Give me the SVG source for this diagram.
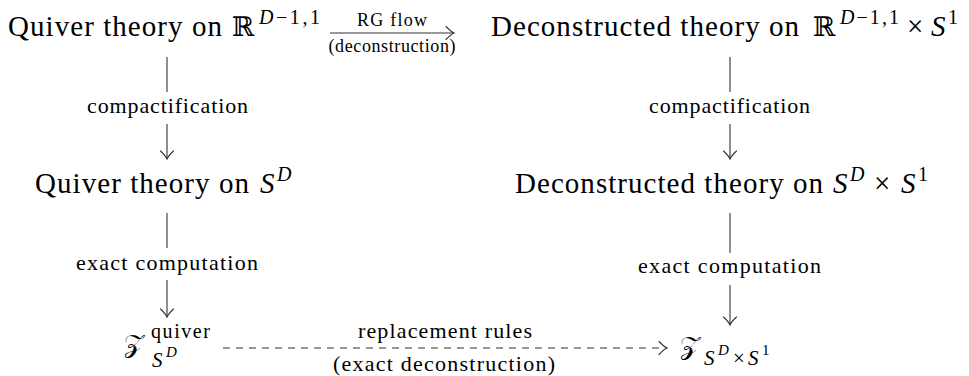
<svg xmlns="http://www.w3.org/2000/svg" width="969" height="376" viewBox="0 0 969 376">
<style>
text { font-family: "Liberation Serif", "Times New Roman", serif; fill: #000; }
.m { font-size: 29px; }
.sup { font-size: 20px; }
.sub { font-size: 21px; }
.ss { font-size: 15px; }
.lbl { font-size: 22px; text-anchor: middle; }
.slbl { font-size: 18px; text-anchor: middle; }
.it { font-style: italic; }
.bb { font-family: "DejaVu Serif", "DejaVu Sans", serif; font-size: 27px; }
.cal { font-family: "DejaVu Serif", "DejaVu Sans", serif; font-size: 26px; }
.edge { stroke: #333; stroke-width: 1.1; fill: none; }
.dash { stroke-dasharray: 7 6; }
.head { stroke: #333; stroke-width: 1.1; fill: none; stroke-dasharray: none; stroke-linecap: round; }
</style>
<defs>
<marker id="arr" markerUnits="userSpaceOnUse" markerWidth="20" markerHeight="20" viewBox="-10 -10 20 20" refX="0" refY="0" orient="auto" overflow="visible">
<path class="head" d="M-8,-6.5 Q-3,-1.2 0,0 Q-3,1.2 -8,6.5"/>
</marker>
</defs>

<g id="connectors">
<g id="e-rg">
<line class="edge" x1="330" y1="33" x2="454" y2="33" marker-end="url(#arr)"/>
<text class="slbl" x="392" y="26" textLength="70">RG flow</text>
<text class="slbl" x="392" y="52" textLength="127">(deconstruction)</text>
</g>
<g id="e-compact-left">
<line class="edge" x1="167" y1="57" x2="167" y2="92"/>
<text class="lbl" x="167.5" y="113" textLength="161">compactification</text>
<line class="edge" x1="167" y1="124" x2="167" y2="159" marker-end="url(#arr)"/>
</g>
<g id="e-compact-right">
<line class="edge" x1="730" y1="57" x2="730" y2="92"/>
<text class="lbl" x="729.5" y="113" textLength="161">compactification</text>
<line class="edge" x1="730" y1="124" x2="730" y2="159" marker-end="url(#arr)"/>
</g>
<g id="e-exact-left">
<line class="edge" x1="167" y1="213" x2="167" y2="248"/>
<text class="lbl" x="167" y="270" textLength="182">exact computation</text>
<line class="edge" x1="167" y1="280" x2="167" y2="317" marker-end="url(#arr)"/>
</g>
<g id="e-exact-right">
<line class="edge" x1="730" y1="213" x2="730" y2="253"/>
<text class="lbl" x="729.5" y="273" textLength="183">exact computation</text>
<line class="edge" x1="730" y1="285" x2="730" y2="325" marker-end="url(#arr)"/>
</g>
<g id="e-replace">
<line class="edge dash" x1="223" y1="348" x2="667" y2="348" marker-end="url(#arr)"/>
<text class="lbl" x="445" y="338" textLength="174">replacement rules</text>
<text class="lbl" x="444" y="371" textLength="222">(exact deconstruction)</text>
</g>
</g>

<g id="n-quiver-flat">
<text class="m" x="8" y="36" textLength="214" lengthAdjust="spacing">Quiver theory on</text>
<text class="bb" x="232" y="36">ℝ</text>
<text class="sup" x="259" y="24" textLength="61"><tspan class="it">D</tspan>−1,1</text>
</g>

<g id="n-decon-flat">
<text class="m" x="491" y="36" textLength="308" lengthAdjust="spacing">Deconstructed theory on</text>
<text class="bb" x="813" y="36">ℝ</text>
<text class="sup" x="840" y="24" textLength="59"><tspan class="it">D</tspan>−1,1</text>
<text class="m" x="907" y="36">×</text>
<text class="m it" x="931" y="36">S</text>
<text class="sup" x="948" y="24">1</text>
</g>

<g id="n-quiver-sphere">
<text class="m" x="35" y="193" textLength="214" lengthAdjust="spacing">Quiver theory on</text>
<text class="m it" x="260" y="193">S</text>
<text class="sup it" x="277" y="181">D</text>
</g>

<g id="n-decon-sphere">
<text class="m" x="515" y="193" textLength="308" lengthAdjust="spacing">Deconstructed theory on</text>
<text class="m it" x="833" y="193">S</text>
<text class="sup it" x="850" y="181">D</text>
<text class="m" x="874" y="193">×</text>
<text class="m it" x="901" y="193">S</text>
<text class="sup" x="918" y="181">1</text>
</g>

<g id="n-z-quiver">
<text class="cal" x="124" y="352">𝒵</text>
<text class="sup" x="151" y="338" textLength="59">quiver</text>
<text class="sub it" x="152" y="367">S</text>
<text class="ss it" x="166" y="357">D</text>
</g>

<g id="n-z-decon">
<text class="cal" x="680" y="354">𝒵</text>
<text class="sub it" x="704" y="365">S</text>
<text class="ss it" x="718" y="355">D</text>
<text class="sub" x="733" y="365">×</text>
<text class="sub it" x="748" y="365">S</text>
<text class="ss" x="762" y="355">1</text>
</g>
</svg>
